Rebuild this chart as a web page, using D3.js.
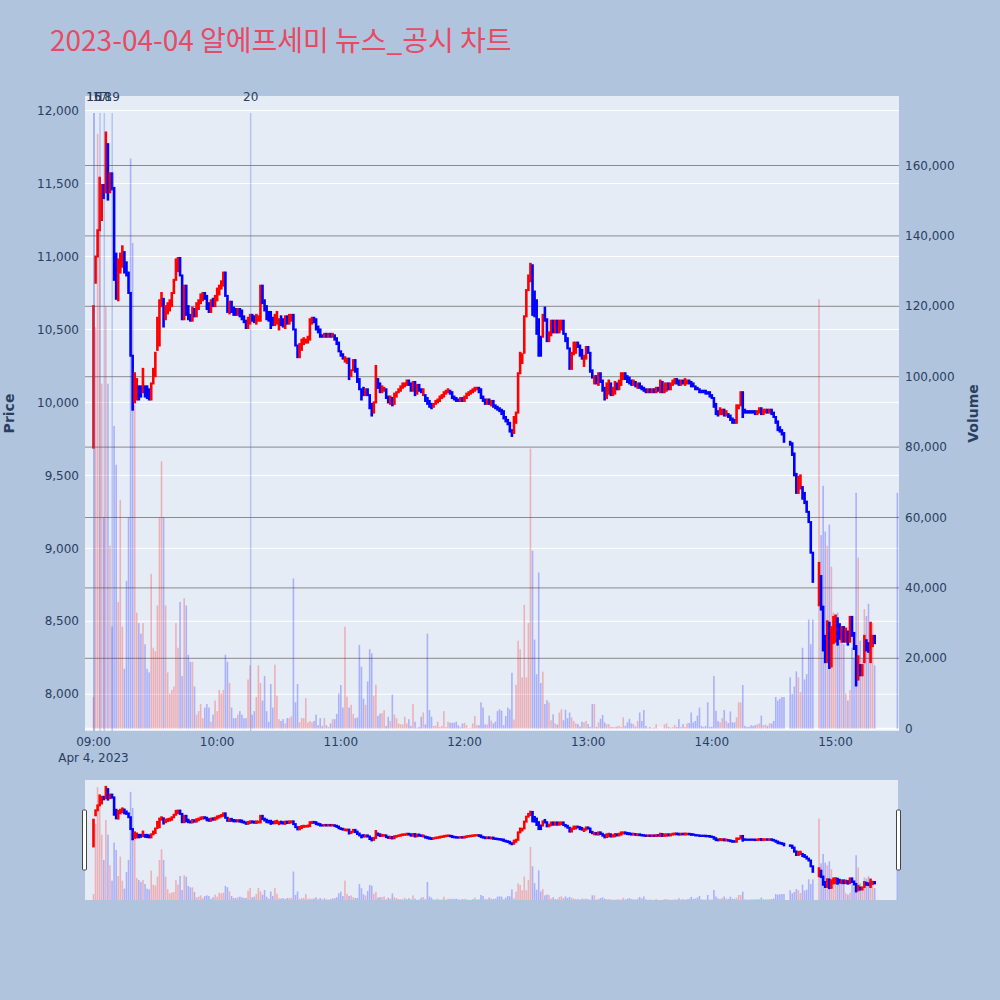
<!DOCTYPE html>
<html><head><meta charset="utf-8">
<script src="https://cdn.jsdelivr.net/npm/d3@7"></script>
<style>body{margin:0;background:#B0C4DE;}svg{display:block}</style>
</head><body><svg id="c" width="1000" height="1000"></svg>
<script>
// ---- DATA (one entry per minute from 09:00; null = no trade) ----
const sessionStart = "2023-04-04T09:00:00";
const opens = [
9690,10820,11000,11180,11250,11490,11440,11770,11440,11570,
11470,11020,10700,10890,10930,11030,10960,10890,10750,10320,
10000,10020,10110,10110,10070,10110,10110,10090,10020,10130,
10180,10360,10390,10660,10710,10570,10610,10630,10660,10750,
10840,10900,10990,10870,10570,10800,10660,10600,10560,10640,
10590,10640,10680,10700,10750,10730,10680,10620,10710,10660,
10700,10740,10780,10800,10890,10730,10610,10690,10650,10640,
10600,10640,10630,10590,10560,10510,10540,10600,10590,10540,
10560,10560,10800,10700,10660,10620,10620,10580,10530,10540,
10500,10590,10570,10510,10590,10540,10560,10600,10500,10390,
10310,10360,10400,10410,10410,10430,10540,10580,10570,10520,
10500,10460,10450,10470,10450,10470,10450,10460,10440,10410,
10350,10330,10280,10270,10300,10180,10220,10290,10230,10160,
10090,10100,10050,10090,10050,9990,9930,10000,10160,10130,
10070,10080,10090,10040,9990,10030,9990,10040,10070,10080,
10100,10110,10120,10150,10130,10080,10140,10060,10120,10090,
10050,10050,10030,10010,9990,9970,9990,10000,10010,10030,
10040,10060,10070,10080,10070,10040,10030,10020,10010,10030,
10010,10030,10050,10060,10070,10080,10090,10100,10090,10040,
10020,9990,10020,9980,10010,9980,9970,9960,9950,9940,
9900,9880,9860,9810,9790,9860,9930,10200,10270,10340,
10590,10770,10830,10940,10760,10700,10570,10450,10450,10650,
10570,10420,10460,10560,10480,10560,10480,10500,10560,10470,
10440,10370,10230,10330,10340,10410,10390,10360,10250,10300,
10380,10340,10220,10130,10180,10120,10200,10150,10100,10030,
10060,10130,10050,10060,10130,10090,10120,10160,10200,10180,
10170,10150,10120,10140,10100,10130,10110,10100,10090,10070,
10090,10070,10090,10070,10100,10070,10140,10070,10080,10130,
10090,10120,10130,10160,10150,10120,10150,10120,10130,10150,
10140,10130,10110,10100,10090,10080,10080,10080,10070,10070,
10050,10030,9990,9940,9920,9920,9950,9910,9920,9910,
9890,9880,9860,9960,9980,10070,9950,9940,9940,9940,
9940,9940,9920,9930,9960,9920,9930,9950,9930,9950,
9930,9900,9870,9830,9810,9790,null,null,9730,9720,
9650,9510,9380,9410,9420,9380,9320,9250,9180,8970,
null,null,8610,8810,8600,8400,8220,8490,8190,8350,
8360,8520,8480,8360,8460,8360,8430,8360,8530,8420,
8330,8100,8200,8130,8220,8370,8350,8220,8330,8400,
null,null,null,null,null,null,null,null,null,null,
8340];
const closes = [
10660,11000,11180,11540,11490,11400,11850,11390,11570,11460,
10840,10710,10980,11020,11070,10890,10870,10750,10320,9950,
10200,10160,10020,10040,10230,10040,10030,10020,10130,10230,
10340,10580,10700,10750,10520,10660,10680,10700,10750,10840,
10980,10990,10870,10570,10800,10600,10570,10560,10650,10590,
10680,10700,10740,10750,10710,10640,10620,10700,10660,10730,
10780,10800,10830,10890,10730,10620,10690,10620,10600,10600,
10640,10590,10570,10550,10510,10580,10600,10560,10550,10600,
10590,10800,10680,10630,10570,10560,10510,10530,10600,10620,
10570,10530,10520,10590,10540,10600,10600,10500,10390,10310,
10400,10430,10440,10430,10450,10570,10580,10550,10500,10480,
10450,10450,10470,10450,10470,10450,10470,10430,10400,10350,
10320,10300,10310,10300,10160,10220,10290,10210,10140,10090,
10020,10050,10090,10050,9960,9910,10000,10250,10100,10070,
10110,10100,10030,10000,10040,9980,10060,10070,10090,10110,
10130,10130,10150,10120,10080,10140,10050,10120,10080,10070,
10090,10010,9990,9970,9960,9990,10010,10020,10040,10050,
10070,10080,10090,10060,10030,10020,10010,10010,10030,10010,
10040,10060,10070,10080,10090,10100,10100,10070,10030,10010,
9990,10020,9990,10010,9970,9960,9950,9940,9920,9890,
9870,9850,9800,9770,9900,9930,10200,10340,10330,10590,
10770,10870,10950,10600,10590,10470,10320,10320,10600,10560,
10420,10480,10560,10480,10560,10480,10560,10560,10470,10420,
10370,10230,10340,10410,10410,10380,10320,10300,10320,10380,
10340,10210,10170,10180,10130,10200,10140,10080,10020,10130,
10150,10050,10100,10140,10090,10150,10200,10200,10160,10140,
10130,10120,10150,10110,10130,10100,10090,10080,10070,10090,
10070,10090,10070,10100,10080,10150,10070,10130,10130,10090,
10130,10150,10160,10130,10120,10150,10130,10160,10150,10130,
10110,10110,10090,10090,10070,10070,10070,10060,10060,10040,
10030,9970,9920,9910,9960,9950,9910,9940,9900,9880,
9860,9860,9980,9980,10070,9900,9930,9930,9930,9930,
9930,9920,9940,9960,9920,9950,9950,9930,9950,9920,
9900,9860,9810,9800,9780,9730,null,null,9710,9640,
9500,9380,9490,9500,9340,9310,9250,9180,8970,8770,
null,null,8900,8580,8300,8220,8500,8180,8460,8530,
8540,8340,8380,8460,8360,8450,8340,8530,8400,8310,
8060,8260,8130,8200,8400,8300,8290,8490,8400,8350,
null,null,null,null,null,null,null,null,null,null,
8340];
const volumes = [
9000,114000,169000,156000,98000,60000,120000,98000,52000,29000,
86000,75000,36000,65000,29000,17000,42000,60000,162000,138000,
92000,33000,30000,27000,30000,24000,17000,16000,44000,23000,
22000,35000,60000,76000,60000,35000,16000,10000,11000,12000,
30000,23000,36000,15000,37000,35000,21000,19000,19000,12000,
4000,5000,7000,3000,6000,7000,6000,2000,4000,8000,
5000,11000,10000,11000,21000,19000,13000,6000,3000,3000,
4000,5000,4000,3000,3000,14000,18000,4000,5000,9000,
18000,13000,8000,15000,5000,2000,12700,6000,18200,9400,
2700,2200,2700,1500,3000,3000,3500,42700,7500,12700,
1800,3000,3000,8700,1800,2200,1800,2200,4000,1000,
3000,800,3000,1000,500,1500,2700,2700,4200,10000,
12400,6000,29000,9100,6000,6800,4200,3000,3200,23800,
17600,8500,6800,13400,22600,21400,9400,12500,3600,4300,
4400,5300,800,3400,2200,9700,4000,3000,1500,1300,
1200,3400,1500,2700,800,7000,2000,300,500,3400,
4600,1200,27000,5300,3400,800,800,2000,500,800,
5000,500,2000,1700,1700,1700,2000,1000,500,1500,
1700,1000,200,300,1500,3600,1000,1000,7500,6000,
1200,1200,3700,2300,1500,2000,5000,5500,5100,1000,
3600,6000,5500,15900,2600,12500,25000,22600,14600,35200,
14600,30000,79600,50600,25300,15500,44400,13000,16200,7000,
8100,7500,2400,4100,1500,1200,4600,5500,2400,5400,
3000,4600,3200,2200,1500,1300,600,2000,1800,2200,
1300,500,7000,7000,500,1800,2800,3900,1800,1300,
1300,500,500,500,600,800,500,3200,800,1800,
2800,1500,1300,600,2200,4600,2200,5300,800,300,
500,200,300,1300,100,100,100,1200,1500,500,
300,500,1100,500,2700,500,1300,500,1500,1600,
4600,1800,2200,3700,6000,800,500,800,7500,500,
600,15000,5100,2200,1800,3000,5300,2200,1600,4900,
1800,1800,3200,7500,7500,12400,800,500,500,1000,
800,1000,1200,1500,3700,1000,1200,800,1500,1500,
2200,9000,8000,8500,9000,9000,null,null,14600,9900,
12000,16300,14600,10400,23000,14000,15500,31000,24000,31000,
null,null,122000,55000,69000,56000,52000,58000,46000,33000,
30000,33000,26000,28000,24000,10000,8000,11000,23000,20000,
67000,48600,25000,20000,34000,32000,35500,27000,30000,18000,
null,null,null,null,null,null,null,null,null,null,
67000];
const newsLabels = ["15","16","17","18","19","20"];
const newsTimes = ["09:00:15","09:00:15","09:03:10","09:05:15","09:09:05","10:16:15"];
const priceTicks = [8000,8500,9000,9500,10000,10500,11000,11500,12000];
const volumeTicks = [0,20000,40000,60000,80000,100000,120000,140000,160000];
const timeTickLabels = ["09:00","10:00","11:00","12:00","13:00","14:00","15:00"];
const titleText = "2023-04-04 알에프세미 뉴스_공시 차트";

// ---- RENDER ----
const svg = d3.select("#c");
const FONT = "'DejaVu Sans', Verdana, sans-serif";
const TXT = "#2a3f5f";
const UP = "#ff0000", DOWN = "#0000ff";
const parse = d3.timeParse("%Y-%m-%dT%H:%M:%S");
const t0 = parse(sessionStart);
const bars = opens.map((o, i) => ({
  t: d3.timeMinute.offset(t0, i), o, c: closes[i], v: volumes[i]
})).filter(d => d.o != null);
const dayStr = "2023-04-04T";
const L = 85, R = 899, T = 96, B = 731;
const x = d3.scaleTime()
  .domain([new Date(t0.getTime() - 4.12*60000), new Date(t0.getTime() + 390.8*60000)])
  .range([L, R]);
const yP = d3.scaleLinear().domain([7748, 12100]).range([B, T]);
const yV = d3.scaleLinear().domain([0, 179744]).range([728.7, T]);
const sT = 780, sB = 900;
const ySP = d3.scaleLinear().domain([7748, 12100]).range([sB, sT]);
const ySV = d3.scaleLinear().domain([0, 179744]).range([sB, sT]);

svg.append("rect").attr("width",1000).attr("height",1000).attr("fill","#B0C4DE");
// title
svg.append("text").attr("x",50).attr("y",51).attr("fill","#E84A64")
  .attr("font-family","'Noto Sans CJK KR', sans-serif").attr("font-size",28).text(titleText);

// main plot background
svg.append("rect").attr("x",L).attr("y",T).attr("width",R-L).attr("height",B-T).attr("fill","#E5ECF6");
// price grid
svg.append("g").selectAll("line").data(priceTicks).join("line")
  .attr("x1",L).attr("x2",R).attr("y1",d=>yP(d)).attr("y2",d=>yP(d))
  .attr("stroke","#fff").attr("stroke-width",1);
// volume grid
svg.append("g").selectAll("line").data(volumeTicks.filter(d=>d>0)).join("line")
  .attr("x1",L).attr("x2",R).attr("y1",d=>yV(d)).attr("y2",d=>yV(d))
  .attr("stroke","#8a8a8a").attr("stroke-width",1);
svg.append("line").attr("x1",L).attr("x2",R).attr("y1",yV(0)).attr("y2",yV(0))
  .attr("stroke","#fff").attr("stroke-width",2);

function drawSeries(g, yp, yv, base) {
  g.append("g").selectAll("rect").data(bars).join("rect")
    .attr("x", d => x(d.t) - 0.8).attr("width", 1.6)
    .attr("y", d => yv(d.v)).attr("height", d => Math.max(0, base - yv(d.v)))
    .attr("fill", d => d.c > d.o ? UP : DOWN).attr("fill-opacity", 0.25);
  g.append("g").selectAll("rect").data(bars).join("rect")
    .attr("x", d => x(d.t) - 0.3).attr("width", 0.6)
    .attr("y", d => yp(Math.max(d.o, d.c)))
    .attr("height", d => Math.abs(yp(d.o) - yp(d.c)))
    .attr("fill", d => d.c > d.o ? UP : DOWN)
    .attr("stroke", d => d.c > d.o ? UP : DOWN).attr("stroke-width", 2);
}
svg.append("clipPath").attr("id","cm").append("rect")
  .attr("x",L).attr("y",T).attr("width",R-L).attr("height",B-T);
const gm = svg.append("g").attr("clip-path","url(#cm)");
drawSeries(gm, yP, yV, yV(0));

// news lines
const newsX = newsTimes.map(s => x(parse(dayStr + s)));
gm.append("g").selectAll("line").data(newsX).join("line")
  .attr("x1",d=>d).attr("x2",d=>d).attr("y1",113).attr("y2",B)
  .attr("stroke","rgb(65,105,225)").attr("stroke-opacity",0.3).attr("stroke-width",1.5);
svg.append("g").selectAll("text").data(newsLabels).join("text")
  .attr("x",(d,i)=>newsX[i]).attr("y",101).attr("text-anchor","middle")
  .attr("font-family",FONT).attr("font-size",12).attr("fill",TXT).text(d=>d);

// axes labels
const fmt = d3.format(",");
svg.append("g").selectAll("text").data(priceTicks).join("text")
  .attr("x",79).attr("y",d=>yP(d)).attr("dy","0.35em").attr("text-anchor","end")
  .attr("font-family",FONT).attr("font-size",12).attr("fill",TXT).text(d=>fmt(d));
svg.append("g").selectAll("text").data(volumeTicks).join("text")
  .attr("x",905).attr("y",d=>yV(d)).attr("dy","0.35em").attr("text-anchor","start")
  .attr("font-family",FONT).attr("font-size",12).attr("fill",TXT).text(d=>fmt(d));
svg.append("g").selectAll("text").data(timeTickLabels).join("text")
  .attr("x",d=>x(parse(dayStr + d + ":00"))).attr("y",742).attr("dy","0.35em")
  .attr("text-anchor","middle").attr("font-family",FONT).attr("font-size",12).attr("fill",TXT).text(d=>d);
svg.append("text").attr("x",x(t0)).attr("y",758).attr("dy","0.35em").attr("text-anchor","middle")
  .attr("font-family",FONT).attr("font-size",12).attr("fill",TXT).text(d3.timeFormat("%b %-d, %Y")(t0));
svg.append("text").attr("transform",`translate(14,${(T+B)/2}) rotate(-90)`).attr("text-anchor","middle")
  .attr("font-family",FONT).attr("font-size",14).attr("font-weight","bold").attr("fill",TXT).text("Price");
svg.append("text").attr("transform",`translate(978,${(T+B)/2}) rotate(-90)`).attr("text-anchor","middle")
  .attr("font-family",FONT).attr("font-size",14).attr("font-weight","bold").attr("fill",TXT).text("Volume");

// range slider
svg.append("rect").attr("x",L).attr("y",sT).attr("width",R-L-1).attr("height",sB-sT).attr("fill","#E5ECF6");
svg.append("clipPath").attr("id","cs").append("rect")
  .attr("x",L).attr("y",sT).attr("width",R-L-1).attr("height",sB-sT);
const gs = svg.append("g").attr("clip-path","url(#cs)");
drawSeries(gs, ySP, ySV, sB);
[L-2.5, R-2.5].forEach(hx => {
  svg.append("rect").attr("x",hx).attr("y",sT+30).attr("width",4).attr("height",60)
    .attr("rx",1).attr("fill","#fff").attr("stroke","#444").attr("stroke-width",1);
});
</script></body></html>
